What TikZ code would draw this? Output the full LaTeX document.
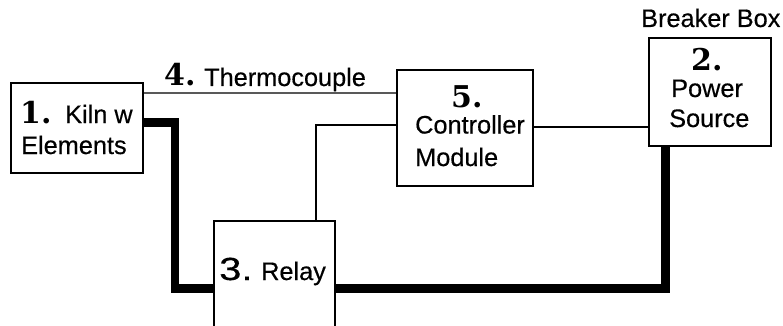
\documentclass[tikz,border=0pt]{standalone}
\usepackage{fontspec}
\newfontfamily\sansf[FakeBold=0.4]{Liberation Sans}
\newfontfamily\numf{DejaVu Serif}
\begin{document}
\begin{tikzpicture}[x=1pt,y=-1pt,
  box/.style={draw, line width=1.5pt, inner sep=0pt, fill=white},
  lbl/.style={anchor=base west, inner sep=0pt, font=\sansf\fontsize{25.3}{28}\selectfont},
  num/.style={anchor=base west, inner sep=0pt, font=\numf\fontsize{30}{34}\selectfont\bfseries},
  snum/.style={anchor=base west, inner sep=0pt, font=\sansf\fontsize{32}{36}\selectfont},
  wire/.style={line width=1.1pt},
  mains/.style={line width=8.5pt}]
\useasboundingbox (0,0) rectangle (783,326);
\clip (0,0) rectangle (783,326);
% helper coordinates
\coordinate (tc) at (0,93);
\coordinate (cr) at (316,125);
\coordinate (cp) at (0,127);
\coordinate (k1) at (175,122.5);
\coordinate (r1) at (0,288.5);
\coordinate (p1) at (665.5,0);
% boxes
\node[box, minimum width=132pt, minimum height=90pt] (kiln) at (77,128) {};
\node[box, minimum width=136pt, minimum height=116pt] (ctrl) at (465,128) {};
\node[box, minimum width=122pt, minimum height=108pt] (power) at (710,92) {};
\node[box, minimum width=121pt, minimum height=119pt] (relay) at (274.5,280.5) {};
% connectors
\draw[wire, black!65] (kiln.east |- tc) -- (ctrl.west |- tc);
\draw[wire] (ctrl.west |- cr) -| (relay.north -| cr);
\draw[wire] (ctrl.east |- cp) -- (power.west |- cp);
\draw[mains] (kiln.east |- k1) -- (k1) |- (relay.west |- r1);
\draw[mains] (relay.east |- r1) -| (power.south -| p1);
% labels
\node[num] (n1) at (20,123) {1.};
\node[lbl] (kilnA) at (65,123) {Kiln w};
\node[lbl] (kilnB) at (21,154) {Elements};
\node[num] (n4) at (164,86) {4.};
\node[lbl] (thermo) at (204,86) {Thermocouple};
\node[num] (n5) at (451,107.5) {5.};
\node[lbl] (ctrlA) at (415,133.5) {Controller};
\node[lbl] (ctrlB) at (415,166) {Module};
\node[num] (n2) at (691,71) {2.};
\node[lbl] (powA) at (671,97) {Power};
\node[lbl] (powB) at (669,127) {Source};
\node[lbl] (breaker) at (641,27) {Breaker Box};
\node[snum] (n3) at (219,280) {\scalebox{1.25}[1]{3.}};
\node[lbl] (relayA) at (261,280) {Relay};
\end{tikzpicture}
\end{document}
